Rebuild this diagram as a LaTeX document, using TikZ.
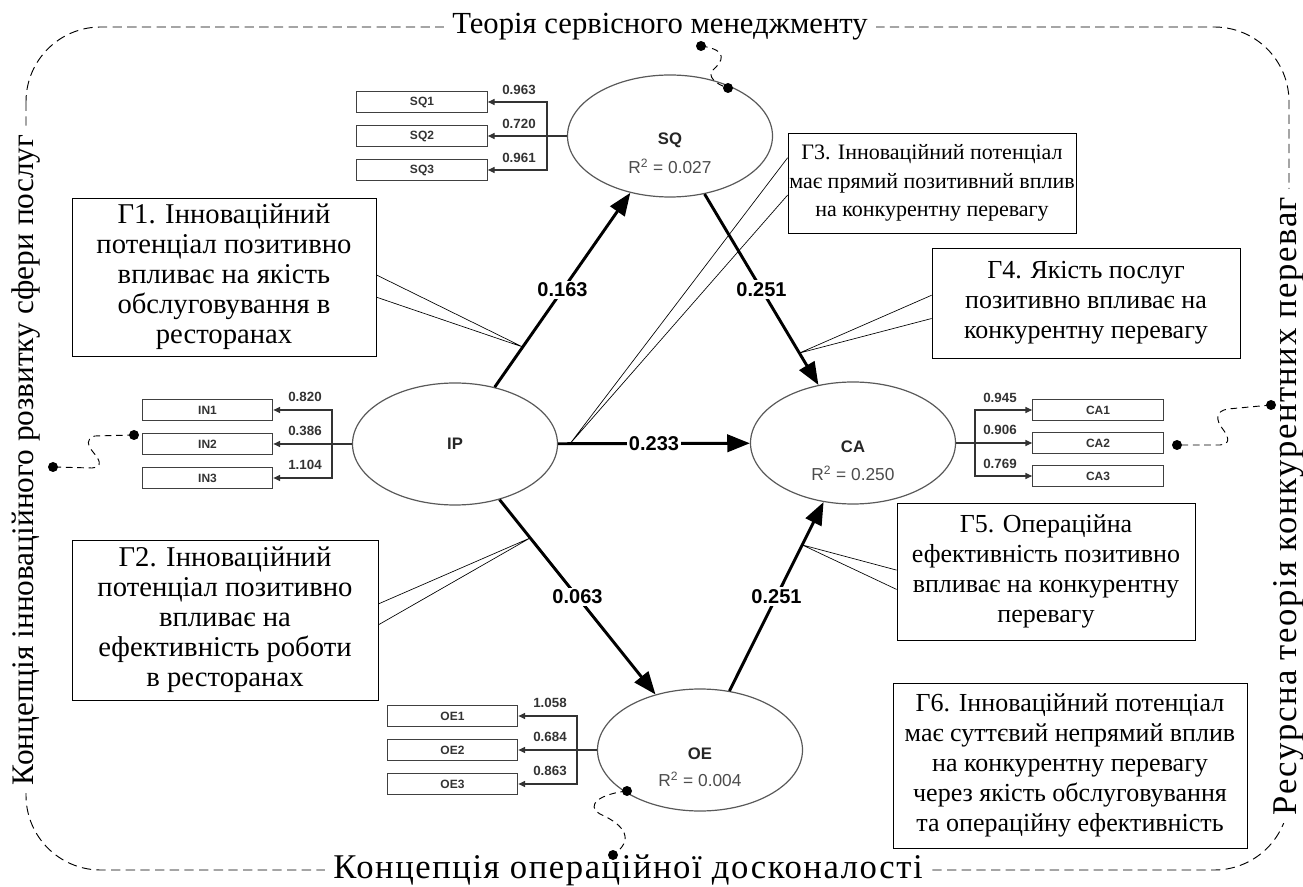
\documentclass[tikz,border=0pt]{standalone}
\usepackage{fontspec}
\setmainfont{Liberation Serif}
\setsansfont{Liberation Sans}
\newfontfamily\spacedserif[LetterSpace=4.5]{Liberation Serif}
\usetikzlibrary{shapes.geometric,arrows.meta,calc}
\begin{document}
\begin{tikzpicture}[x=0.75pt,y=-0.75pt,
 lv/.style={ellipse,draw=black!65,line width=0.9pt,minimum width=153.75pt,minimum height=91.5pt,inner sep=0pt},
 nm/.style={font=\sffamily\bfseries\fontsize{12.5}{14}\selectfont,text=black!85,inner sep=0pt},
 rsq/.style={font=\sffamily\fontsize{13}{15}\selectfont,text=black!70,inner sep=0pt},
 ind/.style={draw=black!75,line width=0.8pt,minimum width=98pt,minimum height=16pt,inner sep=0pt,font=\sffamily\bfseries\fontsize{9}{11}\selectfont,text=black!80},
 il/.style={line width=0.8pt,draw=black!80,-{Triangle[length=5pt,width=4.5pt]}},
 ld/.style={font=\sffamily\bfseries\fontsize{10}{12}\selectfont,text=black!80,inner sep=0pt},
 pth/.style={line width=2.2pt,-{Triangle[length=17pt,width=13pt]}},
 coef/.style={fill=white,inner sep=1.5pt,font=\sffamily\bfseries\fontsize{15}{17}\selectfont},
 gbox/.style={draw,line width=0.6pt,align=center,inner sep=0pt},
 fa/.style={font=\fontsize{21.5}{22.5}\selectfont},
 fb/.style={font=\fontsize{19.5}{22.5}\selectfont},
 fc/.style={font=\fontsize{16.5}{21.4}\selectfont},
 wedge/.style={line width=0.5pt},
 bord/.style={dash pattern=on 7pt off 4pt,line width=0.7pt},
 blab/.style={fill=white,inner xsep=6pt,inner ysep=1pt,font=\fontsize{23.5}{26}\selectfont},
 blabs/.style={fill=white,inner xsep=6pt,inner ysep=1pt,font=\spacedserif\fontsize{26}{28}\selectfont},
 sqg/.style={dash pattern=on 5pt off 3.5pt,line width=0.7pt},
 dot/.style={circle,fill=black,inner sep=0pt,minimum size=7.5pt}
]
\useasboundingbox (0,0) rectangle (1303,887);

% dashed frame
\draw[bord,rounded corners=56pt] (26,27) rectangle (1289,870);
\node[blab,font=\fontsize{23}{26}\selectfont] (ttop) at (660,27) {Теорія сервісного менеджменту};
\node[blabs] (tbot) at (628,870) {Концепція операційної досконалості};
\node[blab,rotate=90] (tleft) at (26,460) {Концепція інноваційного розвитку сфери послуг};
\node[blabs,rotate=90] (tright) at (1289,506) {Ресурсна теорія конкурентних переваг};

% latent variables
\node[lv] (SQ) at (670,136) {};
\node[lv] (IP) at (455,444) {};
\node[lv] (CA) at (853,443) {};
\node[lv] (OE) at (700,750) {};
\node[nm] (SQn) at (670,140) {SQ};
\node[rsq] (SQr) at (670,166) {R\textsuperscript{2} = 0.027};
\node[nm] (IPn) at (455,444) {IP};
\node[nm] (CAn) at (853,447) {CA};
\node[rsq] (CAr) at (853,473) {R\textsuperscript{2} = 0.250};
\node[nm] (OEn) at (700,754) {OE};
\node[rsq] (OEr) at (700,779) {R\textsuperscript{2} = 0.004};

% indicators SQ
\node[ind] (SQ1) at (422,102) {SQ1};
\node[ind] (SQ2) at (422,136) {SQ2};
\node[ind] (SQ3) at (422,170) {SQ3};
\coordinate (sqb) at (547,136);
\draw[il] (SQ.west) -- (SQ2.east);
\draw[il] (sqb) |- (SQ1.east);
\draw[il] (sqb) |- (SQ3.east);
\node[ld] (l1) at (519,90) {0.963};
\node[ld] (l2) at (519,124) {0.720};
\node[ld] (l3) at (519,158) {0.961};

% indicators IP
\node[ind] (IN1) at (207.5,410) {IN1};
\node[ind] (IN2) at (207.5,444) {IN2};
\node[ind] (IN3) at (207.5,478) {IN3};
\coordinate (inb) at (332,444);
\draw[il] (IP.west) -- (IN2.east);
\draw[il] (inb) |- (IN1.east);
\draw[il] (inb) |- (IN3.east);
\node[ld] (l4) at (305,397) {0.820};
\node[ld] (l5) at (305,431) {0.386};
\node[ld] (l6) at (305,465) {1.104};

% indicators CA
\node[ind] (CA1) at (1098,410) {CA1};
\node[ind] (CA2) at (1098,443) {CA2};
\node[ind] (CA3) at (1098,476) {CA3};
\coordinate (cab) at (975,443);
\draw[il] (CA.east) -- (CA2.west);
\draw[il] (cab) |- (CA1.west);
\draw[il] (cab) |- (CA3.west);
\node[ld] (l7) at (1000,398) {0.945};
\node[ld] (l8) at (1000,430) {0.906};
\node[ld] (l9) at (1000,464) {0.769};

% indicators OE
\node[ind] (OE1) at (452.5,716) {OE1};
\node[ind] (OE2) at (452.5,750) {OE2};
\node[ind] (OE3) at (452.5,784) {OE3};
\coordinate (oeb) at (577,750);
\draw[il] (OE.west) -- (OE2.east);
\draw[il] (oeb) |- (OE1.east);
\draw[il] (oeb) |- (OE3.east);
\node[ld] (l10) at (550,703) {1.058};
\node[ld] (l11) at (550,737) {0.684};
\node[ld] (l12) at (550,771) {0.863};

% structural paths
\draw[pth] (IP) -- node[coef] {0.163} (SQ);
\draw[pth] (SQ) -- node[coef] {0.251} (CA);
\draw[pth] (IP) -- node[coef] {0.233} (CA);
\draw[pth] (IP) -- node[coef] {0.063} (OE);
\draw[pth] (OE) -- node[coef] {0.251} (CA);

% hypothesis boxes
\node[gbox,fa,minimum width=228pt,minimum height=118.5pt] (g1) at (224,277) {Г1. Інноваційний\\потенціал позитивно\\впливає на якість\\обслуговування в\\ресторанах};
\node[gbox,fa,minimum width=229.5pt,minimum height=120pt] (g2) at (225,620) {Г2. Інноваційний\\потенціал позитивно\\впливає на\\ефективність роботи\\в ресторанах};
\node[gbox,fc,minimum width=216pt,minimum height=75pt] (g3) at (932,183) {Г3. Інноваційний потенціал\\має прямий позитивний вплив\\на конкурентну перевагу};
\node[gbox,fb,minimum width=231pt,minimum height=82.5pt] (g4) at (1086,303) {Г4. Якість послуг\\позитивно впливає на\\конкурентну перевагу};
\node[gbox,fb,minimum width=223.5pt,minimum height=102.75pt] (g5) at (1046,571.5) {Г5. Операційна\\ефективність позитивно\\впливає на конкурентну\\перевагу};
\node[gbox,fb,minimum width=265.5pt,minimum height=123.75pt] (g6) at (1070,765.5) {Г6. Інноваційний потенціал\\має суттєвий непрямий вплив\\на конкурентну перевагу\\через якість обслуговування\\та операційну ефективність};

% callout wedges
\coordinate (w1) at ($(IP)!0.315!(SQ)$);
\coordinate (w2) at ($(IP)!0.307!(OE)$);
\coordinate (w3) at ($(IP)!0.289!(CA)$);
\coordinate (w4) at ($(SQ)!0.707!(CA)$);
\coordinate (w5) at ($(OE)!0.668!(CA)$);
\draw[wedge] ($(g1.north east)!0.487!(g1.south east)$) -- (w1) -- ($(g1.north east)!0.627!(g1.south east)$);
\draw[wedge] ($(g2.north east)!0.40!(g2.south east)$) -- (w2) -- ($(g2.north east)!0.53!(g2.south east)$);
\draw[wedge] ($(g3.north west)!0.25!(g3.south west)$) -- (w3) -- ($(g3.north west)!0.62!(g3.south west)$);
\draw[wedge] ($(g4.north west)!0.43!(g4.south west)$) -- (w4) -- ($(g4.north west)!0.64!(g4.south west)$);
\draw[wedge] ($(g5.north west)!0.49!(g5.south west)$) -- (w5) -- ($(g5.north west)!0.63!(g5.south west)$);

% squiggly connectors
\node[dot] (t1) at (701,46) {};
\node[dot] (t2) at (728,88) {};
\draw[sqg] (t1.center) .. controls (730,50) and (722,62) .. (713,70) .. controls (707,76) and (715,84) .. (t2.center);
\node[dot] (lf1) at (53,467) {};
\node[dot] (lf2) at (134,435) {};
\draw[sqg] (lf2.center) -- (95,436) .. controls (85,438) and (88,446) .. (93,452) .. controls (99,459) and (104,467) .. (92,468) -- (lf1.center);
\node[dot] (r1) at (1271,405) {};
\node[dot] (r2) at (1177,445) {};
\draw[sqg] (r1.center) -- (1228,409) .. controls (1215,411) and (1216,420) .. (1222,428) .. controls (1228,436) and (1232,444) .. (1220,445) -- (r2.center);
\node[dot] (b1) at (627,791) {};
\node[dot] (b2) at (613,855) {};
\draw[sqg] (b1.center) .. controls (600,794) and (585,805) .. (600,814) .. controls (625,825) and (635,840) .. (b2.center);
\end{tikzpicture}
\end{document}
